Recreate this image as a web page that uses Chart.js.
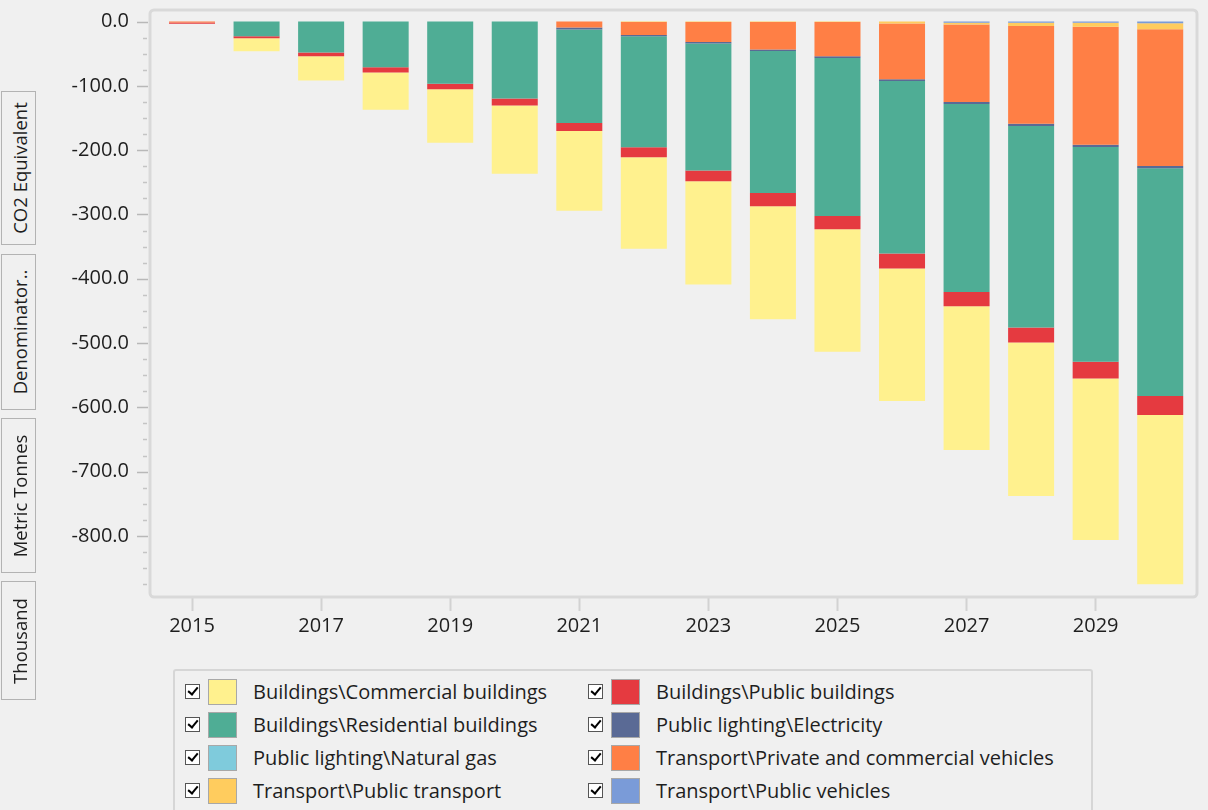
<!DOCTYPE html>
<html>
<head>
<meta charset="utf-8">
<script src="https://cdn.jsdelivr.net/npm/chart.js@4.4.1/dist/chart.umd.min.js"></script>
<style>
html,body{margin:0;padding:0;background:#f0f0f0;width:1208px;height:810px;overflow:hidden;font-family:"Open Sans","Noto Sans",sans-serif;color:#1e1e1e;}
#c{position:absolute;left:0;top:0;}
.tab{position:absolute;left:1px;width:35px;border:1px solid #b3b3b3;background:#f0f0f0;box-sizing:border-box;}
.tab span{position:absolute;left:50%;top:50%;transform:translate(-50%,-50%) rotate(-90deg);white-space:nowrap;font-size:18.5px;color:#1e1e1e;}
#legend{position:absolute;left:173px;top:669px;width:920px;height:160px;border:2px solid #d6d6d6;box-sizing:border-box;border-radius:3px;}
.item{position:absolute;height:26px;font-size:20px;color:#1e1e1e;white-space:nowrap;}
.cb{position:absolute;left:0;top:5px;width:15px;height:15px;background:#fff;border:1px solid #555;box-sizing:border-box;}
.cb::after{content:'';position:absolute;left:4px;top:0px;width:4px;height:8px;border:solid #000;border-width:0 2.5px 2.5px 0;transform:rotate(40deg);}
.sw{position:absolute;left:23px;top:0;width:29px;height:26px;border:1px solid #a8a8a8;box-sizing:border-box;}
.lt{position:absolute;left:68px;top:-2px;line-height:30px;}
</style>
</head>
<body>
<canvas id="c" width="1208" height="660"></canvas>
<div class="tab" style="top:91px;height:154px"><span>CO2 Equivalent</span></div>
<div class="tab" style="top:254px;height:156px"><span>Denominator..</span></div>
<div class="tab" style="top:418px;height:155px"><span>Metric Tonnes</span></div>
<div class="tab" style="top:581px;height:119px"><span>Thousand</span></div>
<div id="legend"></div>
<script>
// ---- data ----
const years = [2015,2016,2017,2018,2019,2020,2021,2022,2023,2024,2025,2026,2027,2028,2029,2030];
const xTickLabels = ['2015','2017','2019','2021','2023','2025','2027','2029'];
const yTickLabels = ['0.0','-100.0','-200.0','-300.0','-400.0','-500.0','-600.0','-700.0','-800.0'];

const commercialBuildings  = [0,-20.2,-37.8,-58.0,-83.2,-106.0,-124.3,-142.3,-160.5,-175.5,-190.6,-206.1,-223.7,-238.8,-251.2,-263.0];
const publicBuildings      = [-1.6,-3.1,-5.7,-8.2,-8.4,-10.9,-12.4,-15.5,-17.0,-20.7,-20.7,-23.3,-22.2,-23.3,-25.8,-29.5];
const residentialBuildings = [0,-22.8,-48.2,-71.0,-96.8,-119.6,-145.3,-172.5,-197.3,-220.9,-245.7,-268.5,-292.3,-313.5,-334.2,-354.2];
const lightingElectricity  = [0,0,0,0,0,0,-3.1,-2.0,-2.4,-2.3,-2.8,-2.8,-3.2,-3.4,-3.5,-3.5];
const lightingNaturalGas   = [0,0,0,0,0,0,0,0,0,0,0,0,0,0,0,0];
const privateVehicles      = [-1.6,0,0,0,0,0,-9.3,-20.5,-31.2,-42.9,-53.3,-86.5,-120.5,-152.1,-183.5,-212.8];
const publicTransport      = [0,0,0,0,0,0,0,-0.5,-0.6,-0.6,-0.6,-3.1,-2.5,-4.8,-6.0,-9.5];
const publicVehicles       = [0,0,0,0,0,0,0,0,0,0,0,0,-2.0,-2.0,-2.0,-2.5];

// legend order (row-major, two columns)
const seriesNames = [
  'Buildings\\Commercial buildings','Buildings\\Public buildings',
  'Buildings\\Residential buildings','Public lighting\\Electricity',
  'Public lighting\\Natural gas','Transport\\Private and commercial vehicles',
  'Transport\\Public transport','Transport\\Public vehicles'
];
const seriesValues = [commercialBuildings, publicBuildings, residentialBuildings, lightingElectricity,
  lightingNaturalGas, privateVehicles, publicTransport, publicVehicles];
const seriesColors = ['#FFF18E','#E53A40','#4FAD95','#5A6A95','#7FCBDC','#FF7F45','#FFCC5E','#7A9BD8'];

// ---- legend (HTML) ----
const lg = document.getElementById('legend');
seriesNames.forEach((n,i)=>{
  const col = i%2, row = Math.floor(i/2);
  const d = document.createElement('div');
  d.className='item';
  d.style.left = (col===0?10:413)+'px';
  d.style.top = (8+row*33)+'px';
  d.innerHTML = '<div class="cb"></div><div class="sw" style="background:'+seriesColors[i]+'"></div><div class="lt"></div>';
  d.querySelector('.lt').textContent = n;
  lg.appendChild(d);
});

// ---- chart ----
// stacking: first dataset nearest zero, so reverse legend order
const datasets = seriesNames.map((n,i)=>({
  label:n,
  data: years.map((y,k)=>({x:y,y:seriesValues[i][k]})),
  backgroundColor: seriesColors[i],
  borderWidth:0,
  barPercentage:0.713,
  categoryPercentage:1.0
})).reverse();

const framePlugin = {
  id:'frame',
  beforeDatasetsDraw(chart){
    const a = chart.chartArea, ctx = chart.ctx;
    ctx.save();
    ctx.strokeStyle = '#d9d9d9';
    ctx.lineWidth = 3;
    ctx.beginPath();
    ctx.roundRect(a.left, a.top, a.right-a.left, a.bottom-a.top, 4);
    ctx.stroke();
    ctx.restore();
  },
  afterDraw(chart){
    const s = chart.scales.y, ctx = chart.ctx;
    ctx.save();
    ctx.lineWidth = 1.5;
    s.ticks.forEach((t,i)=>{
      const yp = Math.round(s.getPixelForTick(i))+0.5;
      const major = Math.abs(t.value % 100) < 1e-6;
      ctx.strokeStyle = major ? '#b8b8b8' : '#c4c4c4';
      ctx.beginPath();
      if(major){ ctx.moveTo(s.right-13, yp); ctx.lineTo(s.right-2, yp); }
      else { ctx.moveTo(s.right-7, yp); ctx.lineTo(s.right-3, yp); }
      ctx.stroke();
    });
    ctx.restore();
  }
};

new Chart(document.getElementById('c'), {
  type:'bar',
  data:{datasets},
  options:{
    responsive:false,
    animation:false,
    devicePixelRatio:1,
    layout:{padding:{left:40,top:10,right:11,bottom:18}},
    plugins:{legend:{display:false},tooltip:{enabled:false}},
    scales:{
      x:{
        type:'linear',
        stacked:true,
        min:2014.349,
        max:2030.570,
        offset:false,
        afterBuildTicks(scale){ scale.ticks = xTickLabels.map(l=>({value:Number(l)})); },
        afterFit(scale){ scale.height = 45; scale.paddingLeft = 0; scale.paddingRight = 0; },
        grid:{display:true,drawOnChartArea:false,drawTicks:true,tickLength:14,tickWidth:2,tickColor:'#d2d2d2',offset:false},
        border:{display:false},
        ticks:{autoSkip:false,maxRotation:0,padding:3,color:'#1e1e1e',font:{family:'"Open Sans"',size:20},
          callback:(v)=>String(v)}
      },
      y:{
        stacked:true,
        min:-895,
        max:18,
        afterBuildTicks(scale){
          const t=[];
          for(let v=0; v>=-875; v-=25) t.push({value:v});
          scale.ticks=t;
        },
        afterFit(scale){ scale.width = 110; scale.paddingTop = 0; scale.paddingBottom = 0; },
        grid:{display:false},
        border:{display:false},
        ticks:{autoSkip:false,padding:13,color:'#1e1e1e',font:{family:'"Open Sans"',size:20},
          callback:(v)=>{ return (Math.abs(v%100)<1e-6) ? yTickLabels[Math.round(-v/100)] : ''; }}
      }
    }
  },
  plugins:[framePlugin]
});
</script>
</body>
</html>
